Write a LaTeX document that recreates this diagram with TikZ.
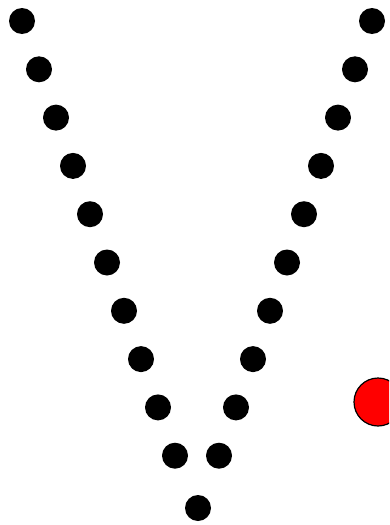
\documentclass[tikz,border=0pt]{standalone}
\usetikzlibrary{calc}

\begin{document}
\begin{tikzpicture}[x=1pt, y=-1pt]
    % Define dot spacing
    \def\stepX{17}
    \def\stepY{48.3}

    \definecolor{borderColour}{HTML}{000000}
    \definecolor{ballColour}{HTML}{FF0000}

    \tikzset{dot/.style={circle, fill=black, inner sep=0pt, minimum size=26pt}}

    % Fix the picture size
    \useasboundingbox (0,0) rectangle (389,525);
    \clip (0,0) rectangle (389,525);

    % Draw the left arm of the V
    \foreach \i in {0,...,9}
        \node[dot] (l\i) at (22+\i*\stepX, 21+\i*\stepY) {};

    % Draw the right arm of the V
    \foreach \i in {0,...,9}
        \node[dot] (r\i) at (372-\i*\stepX, 21+\i*\stepY) {};

    % Draw the tip
    \node[dot] (tip) at (198,508) {};

    % Draw the red ball
    \node[circle, fill=ballColour, draw=borderColour, line width=1.2pt, minimum size=48pt, inner sep=0pt] (ball) at (378,402) {};

\end{tikzpicture}
\end{document}
